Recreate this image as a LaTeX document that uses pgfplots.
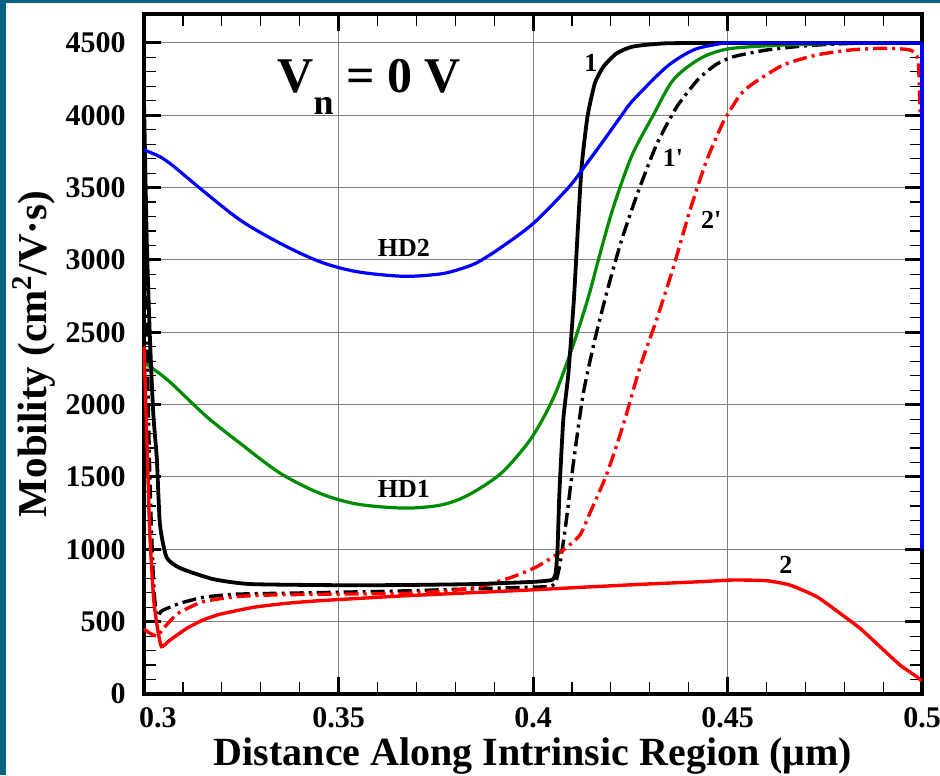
\documentclass[border=0pt]{standalone}
\usepackage{pgfplots}
\pgfplotsset{compat=1.18}
\usepackage{fontspec}
\setmainfont{Liberation Serif}
\definecolor{frame}{RGB}{8,99,130}
\definecolor{grn}{RGB}{0,140,0}
\begin{document}
\begin{tikzpicture}
\useasboundingbox (-72pt,-40.5pt) rectangle (398pt,347pt);
\fill[white] (-72pt,-40.5pt) rectangle (398pt,347pt);
\fill[frame] (-72pt,-40.5pt) rectangle (-69pt,347pt);
\fill[frame] (-72pt,345.4pt) rectangle (398pt,347pt);
\begin{axis}[
 scale only axis, width=389pt, height=340pt,
 xmin=0.3, xmax=0.5, ymin=0, ymax=4700,
 clip=false,
 xtick={0.3,0.35,0.4,0.45,0.5},
 xticklabels={\hspace*{14pt}0.3,0.35,0.4,0.45,0.5},
 ytick={0,500,1000,1500,2000,2500,3000,3500,4000,4500},
 yticklabels={0,500,1000,1500,2000,2500,3000,3500,4000,4500},
 minor x tick num=4, minor y tick num=4,
 grid=major, major grid style={black!50, line width=0.5pt},
 tick align=inside,
 major tick length=8.5pt, minor tick length=6pt,
 every major tick/.append style={line width=1.5pt, black},
 every minor tick/.append style={line width=0.6pt, black},
 axis line style={line width=1.8pt},
 ticklabel style={font=\fontsize{15}{18}\selectfont\bfseries, inner sep=0pt},
 yticklabel style={xshift=-9pt},
 xticklabel style={yshift=-6.5pt},
 xlabel={Distance Along Intrinsic Region (μm)},
 ylabel={Mobility (cm\textsuperscript{2}/V·s)},
 every axis x label/.style={at={(axis description cs:0.5,-0.0905)}, anchor=center, inner sep=0pt, font=\fontsize{20}{22}\selectfont\bfseries},
 every axis y label/.style={at={(axis description cs:-0.1414,0.5)}, anchor=center, rotate=90, font=\fontsize{20.5}{24}\selectfont\bfseries},
]
% 1' black dash-dot
\addplot[black, line width=1.7pt, smooth, tension=0.35, dash pattern=on 7pt off 2.5pt on 1.5pt off 2.5pt] coordinates {
(0.3,3500) (0.3015,1500) (0.3025,750) (0.3033,540) (0.3042,565) (0.3050,581) (0.3093,627) (0.3152,668) (0.3238,690) (0.3435,700) (0.366,712) (0.386,728) (0.402,740) (0.4045,745) (0.4058,770) (0.4068,880) (0.4078,1050) (0.4088,1250) (0.4104,1600) (0.4129,2074) (0.4159,2450) (0.4192,2800) (0.4228,3140) (0.4270,3470) (0.4318,3800) (0.4370,4060) (0.4425,4250) (0.4470,4350) (0.4515,4405) (0.46,4451) (0.47,4480) (0.48,4495) (0.49,4500) (0.5,4500)};
% 2' red dash-dot
\addplot[red, line width=1.7pt, smooth, tension=0.35, dash pattern=on 7pt off 2.5pt on 1.5pt off 2.5pt] coordinates {
(0.3,450) (0.3015,420) (0.3035,400) (0.3050,454) (0.3088,558) (0.3152,638) (0.3238,673) (0.3324,684) (0.3435,689) (0.3658,695) (0.3780,712) (0.3864,742) (0.3949,811) (0.4010,880) (0.4078,995) (0.4121,1100) (0.41465,1252) (0.41894,1518) (0.42322,1862) (0.4275,2259) (0.4318,2590) (0.43607,2948) (0.44036,3345) (0.44465,3689) (0.44893,3954) (0.45321,4140) (0.45663,4221) (0.46434,4348) (0.47293,4417) (0.48149,4451) (0.49,4463) (0.49692,4451) (0.4990,4382) (0.4995,4000)};
% HD1 green
\addplot[grn, line width=1.6pt, smooth] coordinates {
(0.3,2290) (0.304,2215) (0.3075,2136) (0.3161,1917) (0.3247,1733) (0.3350,1526) (0.3452,1387) (0.3547,1313) (0.3667,1285) (0.3761,1305) (0.3830,1370) (0.3915,1518) (0.3984,1725) (0.4025,1900) (0.4061,2100) (0.4104,2418) (0.4142,2740) (0.4172,3040) (0.4206,3360) (0.4254,3720) (0.4309,4000) (0.4361,4246) (0.4429,4391) (0.4498,4457) (0.46,4480) (0.47,4490) (0.48,4497) (0.49,4500) (0.4995,4500)};
% 1 black solid
\addplot[black, line width=1.9pt, smooth, tension=0.35] coordinates {
(0.3,4100) (0.3007,3145) (0.3015,2476) (0.3024,1931) (0.3033,1627) (0.3041,1172) (0.3058,945) (0.3093,870) (0.3178,794) (0.3273,760) (0.35,752) (0.366,753) (0.385,760) (0.40,775) (0.4035,783) (0.4050,790) (0.4058,830) (0.4063,1000) (0.4068,1400) (0.4078,1900) (0.4091,2216) (0.4105,2723) (0.4115,3200) (0.4125,3645) (0.4140,3990) (0.4159,4221) (0.4181,4336) (0.4215,4428) (0.4257,4475) (0.434,4497) (0.45,4500) (0.5,4500)};
% 2 red solid
\addplot[red, line width=1.7pt, smooth, tension=0.3] coordinates {
(0.3,2400) (0.3008,1700) (0.3015,1100) (0.3025,650) (0.3035,450) (0.3045,327) (0.3067,373) (0.3110,454) (0.3152,512) (0.3195,551) (0.3281,599) (0.3367,627) (0.3452,645) (0.3658,677) (0.38,695) (0.40,720) (0.4121,737) (0.4293,760) (0.44293,776) (0.45149,788) (0.46008,783) (0.46607,753) (0.47293,673) (0.47892,558) (0.48406,454) (0.4892,327) (0.49434,200) (0.49863,120) (0.4999,90)};
% HD2 blue
\addplot[blue, line width=1.6pt, smooth] coordinates {
(0.3,3760) (0.304,3715) (0.3075,3650) (0.3144,3495) (0.3247,3276) (0.3350,3115) (0.3452,2988) (0.3547,2919) (0.3667,2887) (0.3761,2903) (0.3810,2935) (0.3855,2980) (0.3915,3081) (0.4001,3253) (0.4091,3500) (0.4129,3633) (0.4172,3790) (0.4228,4000) (0.4258,4106) (0.4344,4336) (0.4412,4451) (0.4472,4490) (0.451,4500) (0.47,4500) (0.4995,4500)};
\addplot[blue, line width=1.8pt] coordinates {(0.4995,4500) (0.5,4490) (0.5,1000)};
\node[font=\fontsize{13}{15}\selectfont\bfseries] at (axis cs:0.3668,3083) {HD2};
\node[font=\fontsize{13}{15}\selectfont\bfseries] at (axis cs:0.3668,1417) {HD1};
\node[font=\fontsize{13}{15}\selectfont\bfseries] at (axis cs:0.4149,4362) {1};
\node[font=\fontsize{13}{15}\selectfont\bfseries] at (axis cs:0.4360,3705) {1\textquotesingle};
\node[font=\fontsize{13}{15}\selectfont\bfseries] at (axis cs:0.4458,3276) {2\textquotesingle};
\node[font=\fontsize{13}{15}\selectfont\bfseries] at (axis cs:0.4650,892) {2};
\node[anchor=base west, inner sep=0pt, font=\fontsize{25}{25}\selectfont\bfseries] at (axis cs:0.3342,4154) {V\raisebox{-11pt}{\fontsize{18}{18}\selectfont n} = 0 V};
\end{axis}
\end{tikzpicture}
\end{document}
